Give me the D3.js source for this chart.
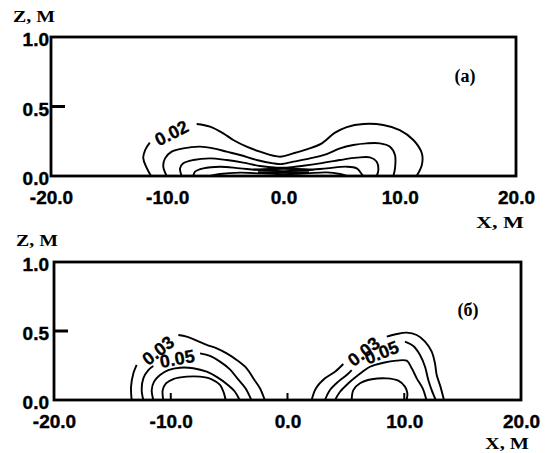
<!DOCTYPE html>
<html><head><meta charset="utf-8">
<script src="https://cdn.jsdelivr.net/npm/d3@7"></script>
<style>
html,body{margin:0;padding:0;background:#fff;}
svg{display:block;}
</style></head>
<body>
<svg id="chart" width="545" height="453"></svg>
<script>
// ---- data (x in m, z in m) ----
const xTicks = [-20, -10, 0, 10, 20];
const xTickLabels = ["-20.0", "-10.0", "0.0", "10.0", "20.0"];
const zTicks = [0, 0.5, 1];
const zTickLabels = ["0.0", "0.5", "1.0"];
const xTitle = "X, M";
const zTitle = "Z, M";
const panelTitles = ["(a)", "(б)"];

// panel (a) contour lines (null = gap for label)
const contourA1 = [[-11.4,0],[-12.06,0.127],[-11.9,0.187],[-11.5,0.24],null,[-7.47,0.374],[-6.32,0.355],[-5.18,0.307],[-4.32,0.259],[-3.17,0.211],[-2.02,0.175],[-0.3,0.139],[0.84,0.163],[2.0,0.192],[3.3,0.235],[4.4,0.31],[5.44,0.352],[6.87,0.374],[8.58,0.367],[10.0,0.33],[11.17,0.259],[11.9,0.163],[11.9,0.079],[11.45,0]];
const contourA2 = [[-10.05,0],[-10.34,0.067],[-10.19,0.127],[-9.62,0.175],[-8.62,0.199],[-7.18,0.211],[-6.04,0.199],[-4.89,0.175],[-3.74,0.151],[-2.31,0.115],[-0.88,0.091],[-0.15,0.086],[0.84,0.103],[2.28,0.127],[3.72,0.158],[4.86,0.199],[6.0,0.223],[7.16,0.235],[8.3,0.235],[9.16,0.211],[9.59,0.151],[9.59,0.055],[9.45,0]];
const contourA3 = [[-8.76,0],[-8.9,0.055],[-8.62,0.091],[-7.76,0.115],[-6.32,0.127],[-4.89,0.115],[-3.46,0.096],[-2.02,0.072],[-0.58,0.06],[0.27,0.06],[1.7,0.074],[3.14,0.091],[4.86,0.115],[6.3,0.132],[7.44,0.134],[8.02,0.103],[8.16,0.043],[8.02,0]];
const contourA4 = [[-7.76,0],[-7.61,0.031],[-6.9,0.055],[-5.46,0.067],[-3.74,0.055],[-2.02,0.043],[-0.58,0.036],[0.56,0.036],[2.0,0.043],[3.72,0.055],[5.44,0.067],[6.3,0.055],[6.73,0.014],[6.87,0]];
const contourA5 = [[-6.32,0],[-5.46,0.014],[-3.74,0.024],[-2.02,0.019],[-0.58,0.014],[0.56,0.014],[2.0,0.019],[3.72,0.026],[4.86,0.014],[5.44,0]];
const contourA6 = [[-2.6,0.046],[-1.2,0.05],[0,0.052],[1.2,0.05],[2.6,0.046]];
const contourA7 = [[-2.2,0.028],[-1,0.026],[0,0.025],[1,0.026],[2.2,0.028]];

// panel (б) contour lines
const contourB1 = [[-13.35,0],[-13.4,0.097],[-13.2,0.193],[-12.92,0.254],null,[-9.35,0.471],[-8.64,0.459],[-7.78,0.43],[-6.92,0.399],[-6.06,0.374],[-5.21,0.338],[-4.35,0.29],[-3.5,0.23],[-2.93,0.157],[-2.36,0.085],[-1.95,0]];
const contourB2 = [[-12.35,0],[-12.49,0.072],[-12.35,0.157],[-11.92,0.217],[-11.49,0.246],null,[-7.49,0.338],[-6.64,0.319],[-5.78,0.278],[-4.93,0.222],[-4.3,0.157],[-3.6,0.085],[-3.1,0]];
const contourB3 = [[-11.49,0],[-11.63,0.072],[-11.43,0.133],[-10.92,0.181],[-10.21,0.217],[-9.21,0.234],[-8.07,0.23],[-6.92,0.205],[-6.0,0.164],[-5.1,0.109],[-4.5,0.06],[-4.1,0]];
const contourB4 = [[-10.64,0],[-10.69,0.072],[-10.41,0.121],[-9.78,0.152],[-8.64,0.169],[-7.49,0.169],[-6.49,0.15],[-5.78,0.109],[-5.44,0.048],[-5.3,0]];
const contourB5 = [[2.07,0],[2.44,0.085],[3.21,0.157],[4.07,0.205],[4.78,0.261],null,[8.5,0.459],[9.35,0.478],[10.21,0.488],[11.07,0.471],[11.78,0.423],[12.35,0.35],[12.63,0.266],[12.78,0.181],[13.1,0.097],[13.4,0]];
const contourB6 = [[3.21,0],[3.64,0.072],[4.35,0.133],[5.07,0.181],[5.5,0.217],null,[10.06,0.423],[10.78,0.391],[11.35,0.326],[11.78,0.241],[12.06,0.145],[12.35,0.072],[12.7,0]];
const contourB7 = [[4.07,0],[4.5,0.06],[5.21,0.121],[6.06,0.181],[7.07,0.241],[8.21,0.27],[9.35,0.285],[10.21,0.285],[10.64,0.23],[11.07,0.157],[11.58,0.085],[11.9,0]];
const contourB8 = [[5.5,0],[5.64,0.072],[6.21,0.121],[7.21,0.15],[8.5,0.157],[9.49,0.14],[10.06,0.097],[10.27,0.048],[10.2,0]];

// contour labels: [x, z, text, angle]
const labelsA = [[-9.62, 0.307, "0.02", -27]];
const labelsB = [[-11.07, 0.357, "0.03", -38], [-9.44, 0.297, "0.05", -10], [6.55, 0.35, "0.03", -38], [8.07, 0.343, "0.05", -22]];
const bottomTicksB = [-10, 0, 10];

// ---- drawing ----
const svg = d3.select("#chart");
const panels = [
  {box: {l: 51, r: 516, t: 37, b: 176}, contours: [contourA1, contourA2, contourA3, contourA4, contourA5, contourA6, contourA7], labels: labelsA, ticks: [], title: panelTitles[0], titlePos: [465, 82], zTitleX: 13, zTitleY: 22, xTitleY: 228, xTitleLen: 48},
  {box: {l: 54, r: 521, t: 262, b: 400}, contours: [contourB1, contourB2, contourB3, contourB4, contourB5, contourB6, contourB7, contourB8], labels: labelsB, ticks: bottomTicksB, title: panelTitles[1], titlePos: [468, 316], zTitleX: 16, zTitleY: 246, xTitleY: 449, xTitleLen: 44}
];

panels.forEach(p => {
  const B = p.box;
  const x = d3.scaleLinear().domain([-20, 20]).range([B.l, B.r]);
  const y = d3.scaleLinear().domain([0, 1]).range([B.b, B.t]);
  const g = svg.append("g");

  // contours
  const line = d3.line().defined(d => d !== null).x(d => x(d[0])).y(d => y(d[1])).curve(d3.curveCatmullRom.alpha(0.5));
  g.selectAll("path.c").data(p.contours).join("path")
    .attr("class", "c").attr("d", line)
    .attr("fill", "none").attr("stroke", "#000").attr("stroke-width", 1.9);

  // contour labels
  g.selectAll("text.cl").data(p.labels).join("text")
    .attr("class", "cl")
    .attr("transform", d => `translate(${x(d[0])},${y(d[1])}) rotate(${d[3]})`)
    .attr("text-anchor", "middle").attr("dominant-baseline", "central")
    .attr("font-family", "'Liberation Sans', Arial, sans-serif").attr("font-weight", "bold")
    .attr("font-size", 18).attr("stroke", "#000").attr("stroke-width", 0.3).text(d => d[2]);

  // bottom inner ticks
  g.selectAll("line.bt").data(p.ticks).join("line")
    .attr("class", "bt")
    .attr("x1", d => x(d)).attr("x2", d => x(d))
    .attr("y1", y(0)).attr("y2", y(0) - 7)
    .attr("stroke", "#000").attr("stroke-width", 2);

  // 0.5 inner tick
  g.append("line").attr("x1", x(-20)).attr("x2", x(-20) + 14)
    .attr("y1", y(0.5)).attr("y2", y(0.5)).attr("stroke", "#000").attr("stroke-width", 3);

  // frame
  g.append("rect").attr("x", x(-20)).attr("y", y(1))
    .attr("width", x(20) - x(-20)).attr("height", y(0) - y(1))
    .attr("fill", "none").attr("stroke", "#000").attr("stroke-width", 2.8);

  // x axis labels
  const xa = g.append("g").attr("transform", `translate(0,${B.b})`)
    .call(d3.axisBottom(x).tickValues(xTicks).tickSize(0).tickFormat((d, i) => xTickLabels[i]));
  xa.select(".domain").remove();
  xa.selectAll("text").attr("y", 28).attr("dy", null)
    .attr("font-family", "'Liberation Sans', Arial, sans-serif").attr("font-weight", "bold").attr("font-size", 19)
    .attr("fill", "#000").attr("stroke", "#000").attr("stroke-width", 0.4);

  // z axis labels
  const ya = g.append("g").attr("transform", `translate(0,0)`)
    .call(d3.axisLeft(y).tickValues(zTicks).tickSize(0).tickFormat((d, i) => zTickLabels[i]));
  ya.select(".domain").remove();
  ya.selectAll("text").attr("x", 49).attr("dy", "0.45em")
    .attr("font-family", "'Liberation Sans', Arial, sans-serif").attr("font-weight", "bold").attr("font-size", 19)
    .attr("fill", "#000").attr("stroke", "#000").attr("stroke-width", 0.4);

  // axis titles
  g.append("text").attr("x", p.zTitleX).attr("y", p.zTitleY)
    .attr("font-family", "'Liberation Serif', 'Times New Roman', serif").attr("font-weight", "bold")
    .attr("font-size", 17).attr("textLength", 42).attr("lengthAdjust", "spacingAndGlyphs").text(zTitle);
  g.append("text").attr("x", B.r + 8 - p.xTitleLen).attr("y", p.xTitleY)
    .attr("font-family", "'Liberation Serif', 'Times New Roman', serif").attr("font-weight", "bold")
    .attr("font-size", 17).attr("textLength", p.xTitleLen).attr("lengthAdjust", "spacingAndGlyphs").text(xTitle);

  // panel title
  g.append("text").attr("x", p.titlePos[0]).attr("y", p.titlePos[1]).attr("text-anchor", "middle")
    .attr("font-family", "'Liberation Serif', 'Times New Roman', serif").attr("font-weight", "bold")
    .attr("font-size", 18).text(p.title);
});
</script>
</body></html>
